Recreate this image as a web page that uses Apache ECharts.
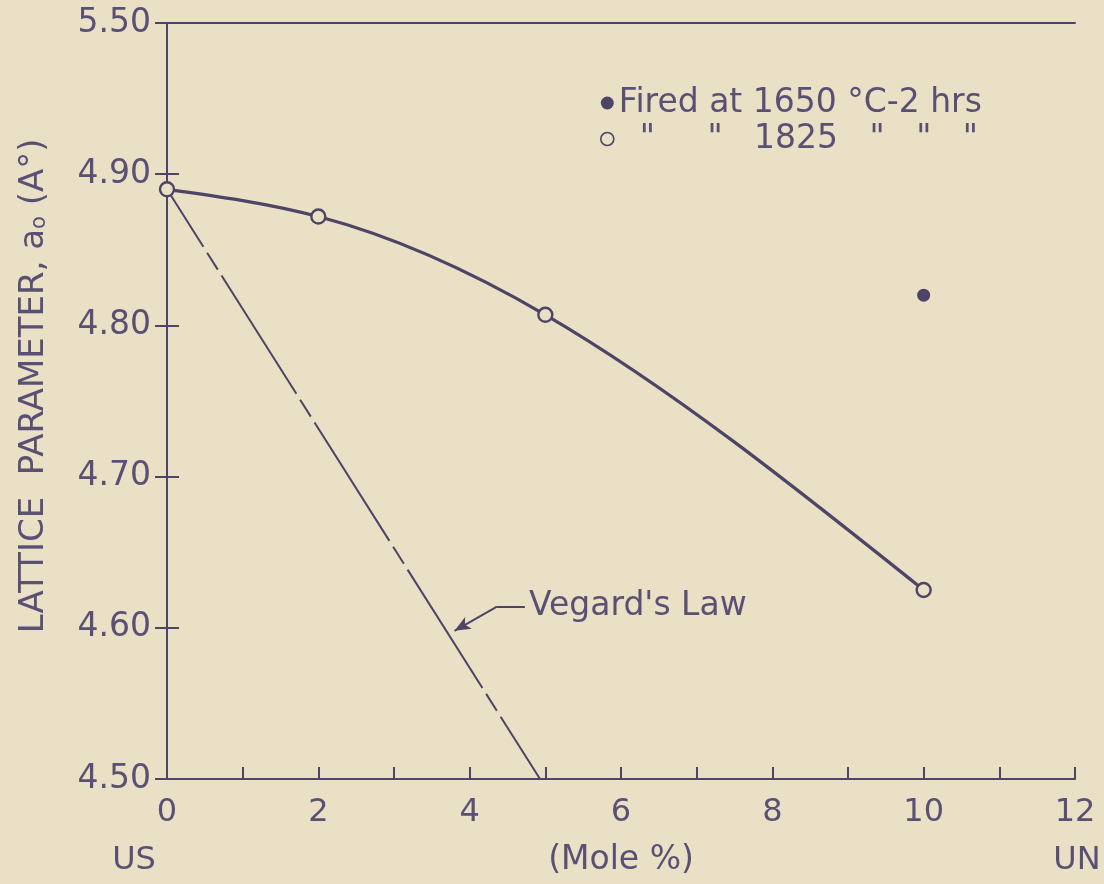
<!DOCTYPE html>
<html>
<head>
<meta charset="utf-8">
<script src="https://cdn.jsdelivr.net/npm/echarts@6/dist/echarts.min.js"></script>
<style>
html,body{margin:0;padding:0;background:#e9e0c6;}
#c{width:1104px;height:884px;}
</style>
</head>
<body>
<div id="c"></div>
<script>
// ---- data ----
const xTickValues = [0,1,2,3,4,5,6,7,8,9,10,11,12];
const xTickLabels = ['0','','2','','4','','6','','8','','10','','12'];
const yTickValues = [4.50,4.60,4.70,4.80,4.90,5.00];
const yTickLabels = ['4.50','4.60','4.70','4.80','4.90','5.50'];

const mole1825 = [0, 2, 5, 10];
const lattice1825 = [4.890, 4.872, 4.807, 4.625];

const mole1650 = [10];
const lattice1650 = [4.820];

const vegardMole = [0, 4.93];
const vegardLattice = [4.890, 4.500];

const legendNames = ['Fired at 1650 °C-2 hrs', '  "     "   1825   "   "   "'];
const yTitle = 'LATTICE  PARAMETER, a';
const vegardLabel = "Vegard's Law";
const arrowMole = [4.73, 4.36, 3.80];
const arrowLattice = [4.614, 4.614, 4.598];

// ---- style ----
const ink = '#4d4466';
const textInk = '#5a5074';
const bg = '#e9e0c6';
const font = '"DejaVu Sans", "Liberation Sans", sans-serif';

const zip = (a, b) => a.map((v, i) => [v, b[i]]);

// natural cubic spline slopes (rendering helper for the smooth curve through the measured points)
function splineSlopes(x, y) {
  const n = x.length;
  const h = [], d = [];
  for (let i = 0; i < n - 1; i++) { h.push(x[i+1] - x[i]); d.push((y[i+1] - y[i]) / h[i]); }
  // solve tridiagonal for second derivatives M (natural: M0 = Mn-1 = 0)
  const M = new Array(n).fill(0);
  const a = [], b = [], c = [], r = [];
  for (let i = 1; i < n - 1; i++) {
    a.push(h[i-1]); b.push(2 * (h[i-1] + h[i])); c.push(h[i]); r.push(6 * (d[i] - d[i-1]));
  }
  const m = b.length;
  for (let i = 1; i < m; i++) {
    const w = a[i] / b[i-1];
    b[i] -= w * c[i-1]; r[i] -= w * r[i-1];
  }
  const sol = new Array(m).fill(0);
  for (let i = m - 1; i >= 0; i--) sol[i] = (r[i] - (i < m - 1 ? c[i] * sol[i+1] : 0)) / b[i];
  for (let i = 0; i < m; i++) M[i+1] = sol[i];
  const s = [];
  for (let i = 0; i < n - 1; i++) s.push(d[i] - h[i] * (2 * M[i] + M[i+1]) / 6);
  s.push(d[n-2] + h[n-2] * (M[n-2] + 2 * M[n-1]) / 6);
  return s;
}
const slopes1825 = splineSlopes(mole1825, lattice1825);

const chart = echarts.init(document.getElementById('c'), null, {renderer: 'canvas'});

const option = {
  backgroundColor: bg,
  animation: false,
  grid: {left: 167, right: 29, top: 23, bottom: 105, containLabel: false},
  legend: {
    orient: 'vertical',
    left: 595, top: 80,
    itemGap: 0,
    itemWidth: 13, itemHeight: 13,
    textStyle: {fontFamily: font, fontSize: 33, lineHeight: 36, color: textInk},
    data: [
      {name: legendNames[0], icon: 'circle', itemStyle: {color: ink, borderWidth: 0}},
      {name: legendNames[1], icon: 'circle', itemStyle: {color: bg, borderColor: ink, borderWidth: 1.6}}
    ]
  },
  xAxis: [{
    type: 'value', min: 0, max: 12, interval: 1,
    name: '(Mole %)', nameLocation: 'middle', nameGap: 65,
    nameTextStyle: {fontFamily: font, fontSize: 33, color: textInk},
    axisLine: {show: true, onZero: false, lineStyle: {color: ink, width: 2}},
    axisTick: {show: true, inside: true, length: 12, lineStyle: {color: ink, width: 2}},
    axisLabel: {margin: 18, fontFamily: font, fontSize: 32, color: textInk,
      formatter: v => xTickLabels[xTickValues.indexOf(Math.round(v))] || ''},
    splitLine: {show: false}
  }, {
    type: 'value', min: 0, max: 12, position: 'top',
    axisLine: {show: true, lineStyle: {color: ink, width: 2}},
    axisTick: {show: false}, axisLabel: {show: false}, splitLine: {show: false}
  }],
  yAxis: [{
    type: 'value', min: 4.5, max: 5.0, interval: 0.1,
    axisLine: {show: true, onZero: false, lineStyle: {color: ink, width: 2}},
    axisTick: {show: true, inside: true, length: 12, lineStyle: {color: ink, width: 2}},
    axisLabel: {margin: 16, fontFamily: font, fontSize: 33, color: textInk,
      formatter: v => {
        const i = yTickValues.findIndex(t => Math.abs(t - v) < 1e-6);
        return i >= 0 ? yTickLabels[i] : '';
      }},
    splitLine: {show: false}
  }, {
    type: 'value', min: 4.5, max: 5.0, interval: 0.1, position: 'right',
    axisLine: {show: true, lineStyle: {color: ink, width: 2}},
    axisTick: {show: true, inside: true, length: 12, lineStyle: {color: ink, width: 2}},
    axisLabel: {show: false}, splitLine: {show: false}
  }],
  series: [
    {
      name: 'curve', type: 'custom', silent: true, z: 2,
      data: zip(mole1825, lattice1825),
      renderItem: function (params, api) {
        const i = params.dataIndex;
        if (i >= mole1825.length - 1) return null;
        const x0 = mole1825[i], x1 = mole1825[i+1];
        const y0 = lattice1825[i], y1 = lattice1825[i+1];
        const hh = (x1 - x0) / 3;
        const p0 = api.coord([x0, y0]);
        const p1 = api.coord([x1, y1]);
        const c0 = api.coord([x0 + hh, y0 + slopes1825[i] * hh]);
        const c1 = api.coord([x1 - hh, y1 - slopes1825[i+1] * hh]);
        return {
          type: 'bezierCurve',
          shape: {x1: p0[0], y1: p0[1], x2: p1[0], y2: p1[1], cpx1: c0[0], cpy1: c0[1], cpx2: c1[0], cpy2: c1[1]},
          style: {stroke: ink, lineWidth: 3.2, fill: null}
        };
      }
    },
    {
      name: 'vegard', type: 'line', data: zip(vegardMole, vegardLattice),
      showSymbol: false, silent: true,
      lineStyle: {color: ink, width: 2, type: [140, 7, 20, 7], dashOffset: 72}, z: 1,
      markLine: {
        silent: true, symbolSize: [10, 16],
        lineStyle: {color: ink, width: 2, type: 'solid'},
        label: {show: false},
        data: [
          [{coord: [arrowMole[0], arrowLattice[0]], symbol: 'none'},
           {coord: [arrowMole[1], arrowLattice[1]], symbol: 'none'}],
          [{coord: [arrowMole[1], arrowLattice[1]], symbol: 'none'},
           {coord: [arrowMole[2], arrowLattice[2]], symbol: 'arrow'}]
        ]
      }
    },
    {
      name: legendNames[1], type: 'scatter', data: zip(mole1825, lattice1825),
      symbol: 'circle', symbolSize: 14,
      itemStyle: {color: bg, borderColor: ink, borderWidth: 2.4, opacity: 1}, z: 5
    },
    {
      name: legendNames[0], type: 'scatter', data: zip(mole1650, lattice1650),
      symbol: 'circle', symbolSize: 13,
      itemStyle: {color: ink, opacity: 1}, z: 5
    }
  ]
};
chart.setOption(option);

// text annotations positioned from data coordinates
const p = chart.convertToPixel({gridIndex: 0}, [arrowMole[0], arrowLattice[0]]);
const gb = chart.convertToPixel({gridIndex: 0}, [0, 4.5]);
const ge = chart.convertToPixel({gridIndex: 0}, [12, 4.5]);
const yMid = chart.convertToPixel({gridIndex: 0}, [0, 4.76]);
chart.setOption({
  graphic: [
    {type: 'text', x: p[0] + 4, y: p[1], style: {text: vegardLabel, font: '33px ' + font, fill: textInk, textVerticalAlign: 'middle'}},
    {type: 'text', x: gb[0] - 33, y: gb[1] + 82, style: {text: 'US', font: '32px ' + font, fill: textInk, textAlign: 'center', textVerticalAlign: 'middle'}},
    {type: 'text', x: ge[0] + 2, y: gb[1] + 82, style: {text: 'UN', font: '32px ' + font, fill: textInk, textAlign: 'center', textVerticalAlign: 'middle'}},
    {type: 'text', x: 34, y: yMid[1], rotation: Math.PI / 2,
      style: {
        text: '{n|' + yTitle + '}{s|o}{n| (A°)}',
        textAlign: 'center', textVerticalAlign: 'middle',
        rich: {
          n: {fontFamily: font, fontSize: 34, fill: textInk},
          s: {fontFamily: font, fontSize: 21, fill: textInk, padding: [12, 0, 0, 0]}
        }
      }}
  ]
});
</script>
</body>
</html>
